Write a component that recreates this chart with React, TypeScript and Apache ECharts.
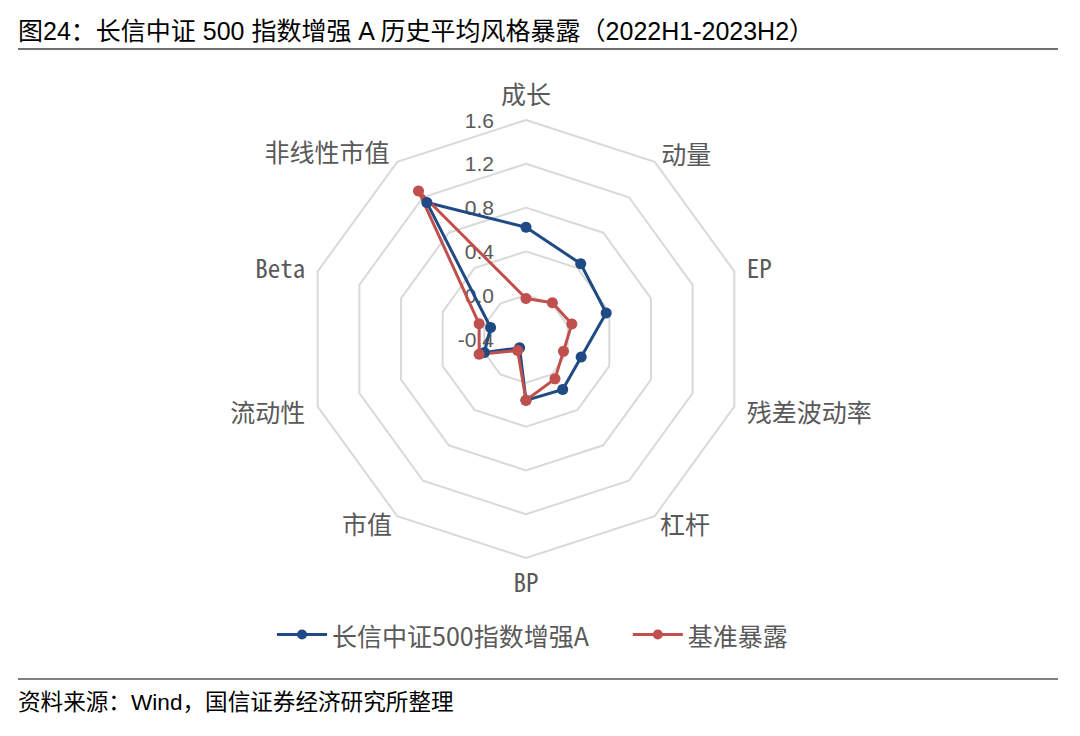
import React, { useEffect, useRef } from "react";
import * as echarts from "echarts";

// ---- data ----
const indicatorNames = ["成长", "非线性市值", "Beta", "流动性", "市值", "BP", "杠杆", "残差波动率", "EP", "动量"];
const fundValues = [0.62, 1.14, -0.06, 0.0, -0.3, 0.16, 0.17, 0.13, 0.37, 0.45];
const benchValues = [-0.03, 1.27, 0.05, 0.05, -0.27, 0.16, 0.05, -0.04, 0.04, 0.01];
const seriesNames = ["长信中证500指数增强A", "基准暴露"];
const seriesColors = ["#1f4a84", "#c0504d"];
const axisMin = -0.4;
const axisMax = 1.6;
const titleText = "图24：长信中证 500 指数增强 A 历史平均风格暴露（2022H1-2023H2）";
const sourceText = "资料来源：Wind，国信证券经济研究所整理";

// per-indicator distance of the name from the outer ring
const nameGaps = [15, 13, 13, 13, 9, 10, 9, 13, 13, 11];

const cjkFont = '"Noto Sans Mono CJK SC", "Noto Sans CJK SC", sans-serif';
const legendFont = '"Noto Sans CJK SC", sans-serif';
const titleFont = '"Liberation Sans", "Noto Sans CJK SC", sans-serif';
const legendIcon = "path://M0,4.5h50v3h-50z M20,6a5,5 0 1,1 10,0a5,5 0 1,1 -10,0z";

export default function App() {
  const ref = useRef<HTMLDivElement>(null);
  useEffect(() => {
    if (!ref.current) return;
    const chart = echarts.init(ref.current, null, { renderer: "svg" });
    const option: any = {
      animation: false,
      backgroundColor: "#ffffff",
      legend: {
        left: 272,
        top: 617,
        itemWidth: 50,
        itemHeight: 10,
        itemGap: 44,
        textStyle: { color: "#595959", fontSize: 25, fontFamily: legendFont },
        data: seriesNames.map((n) => ({ name: n, icon: legendIcon })),
      },
      radar: {
        center: [526, 339],
        radius: 219,
        startAngle: 90,
        splitNumber: 5,
        shape: "polygon",
        nameGap: 13,
        indicator: indicatorNames.map((name, i) =>
          i === 0
            ? { name, min: axisMin, max: axisMax, nameGap: nameGaps[i], axisLabel: { show: true } }
            : { name, min: axisMin, max: axisMax, nameGap: nameGaps[i] }
        ),
        axisName: { color: "#595959", fontSize: 25, fontFamily: cjkFont },
        axisLine: { show: false },
        axisTick: { show: false },
        axisLabel: {
          show: false,
          color: "#595959",
          fontSize: 21,
          fontFamily: '"Liberation Sans", Arial, sans-serif',
          margin: 32,
          formatter: (v: number) => Number(v).toFixed(1),
        },
        splitLine: { lineStyle: { color: "#d9d9d9", width: 2 } },
        splitArea: { show: false },
      },
      series: [
        {
          type: "radar",
          symbol: "circle",
          symbolSize: 11,
          data: [
            {
              name: seriesNames[0],
              value: fundValues,
              lineStyle: { color: seriesColors[0], width: 3 },
              itemStyle: { color: seriesColors[0] },
            },
            {
              name: seriesNames[1],
              value: benchValues,
              lineStyle: { color: seriesColors[1], width: 3 },
              itemStyle: { color: seriesColors[1] },
            },
          ],
        },
      ],
      graphic: [
        {
          type: "text",
          left: 18,
          top: 18,
          style: { text: titleText, fontSize: 25, fill: "#000000", fontFamily: titleFont },
        },
        {
          type: "line",
          shape: { x1: 18, y1: 49, x2: 1058, y2: 49 },
          style: { stroke: "#404040", lineWidth: 1.5 },
        },
        {
          type: "line",
          shape: { x1: 18, y1: 679, x2: 1058, y2: 679 },
          style: { stroke: "#808080", lineWidth: 2 },
        },
        {
          type: "text",
          left: 18,
          top: 691,
          style: { text: sourceText, fontSize: 22.6, fill: "#000000", fontFamily: titleFont },
        },
      ],
    };
    chart.setOption(option);
    return () => chart.dispose();
  }, []);
  return (
    <div
      ref={ref}
      style={{ position: "absolute", left: 0, top: 0, width: 1080, height: 736, background: "#fff" }}
    />
  );
}
